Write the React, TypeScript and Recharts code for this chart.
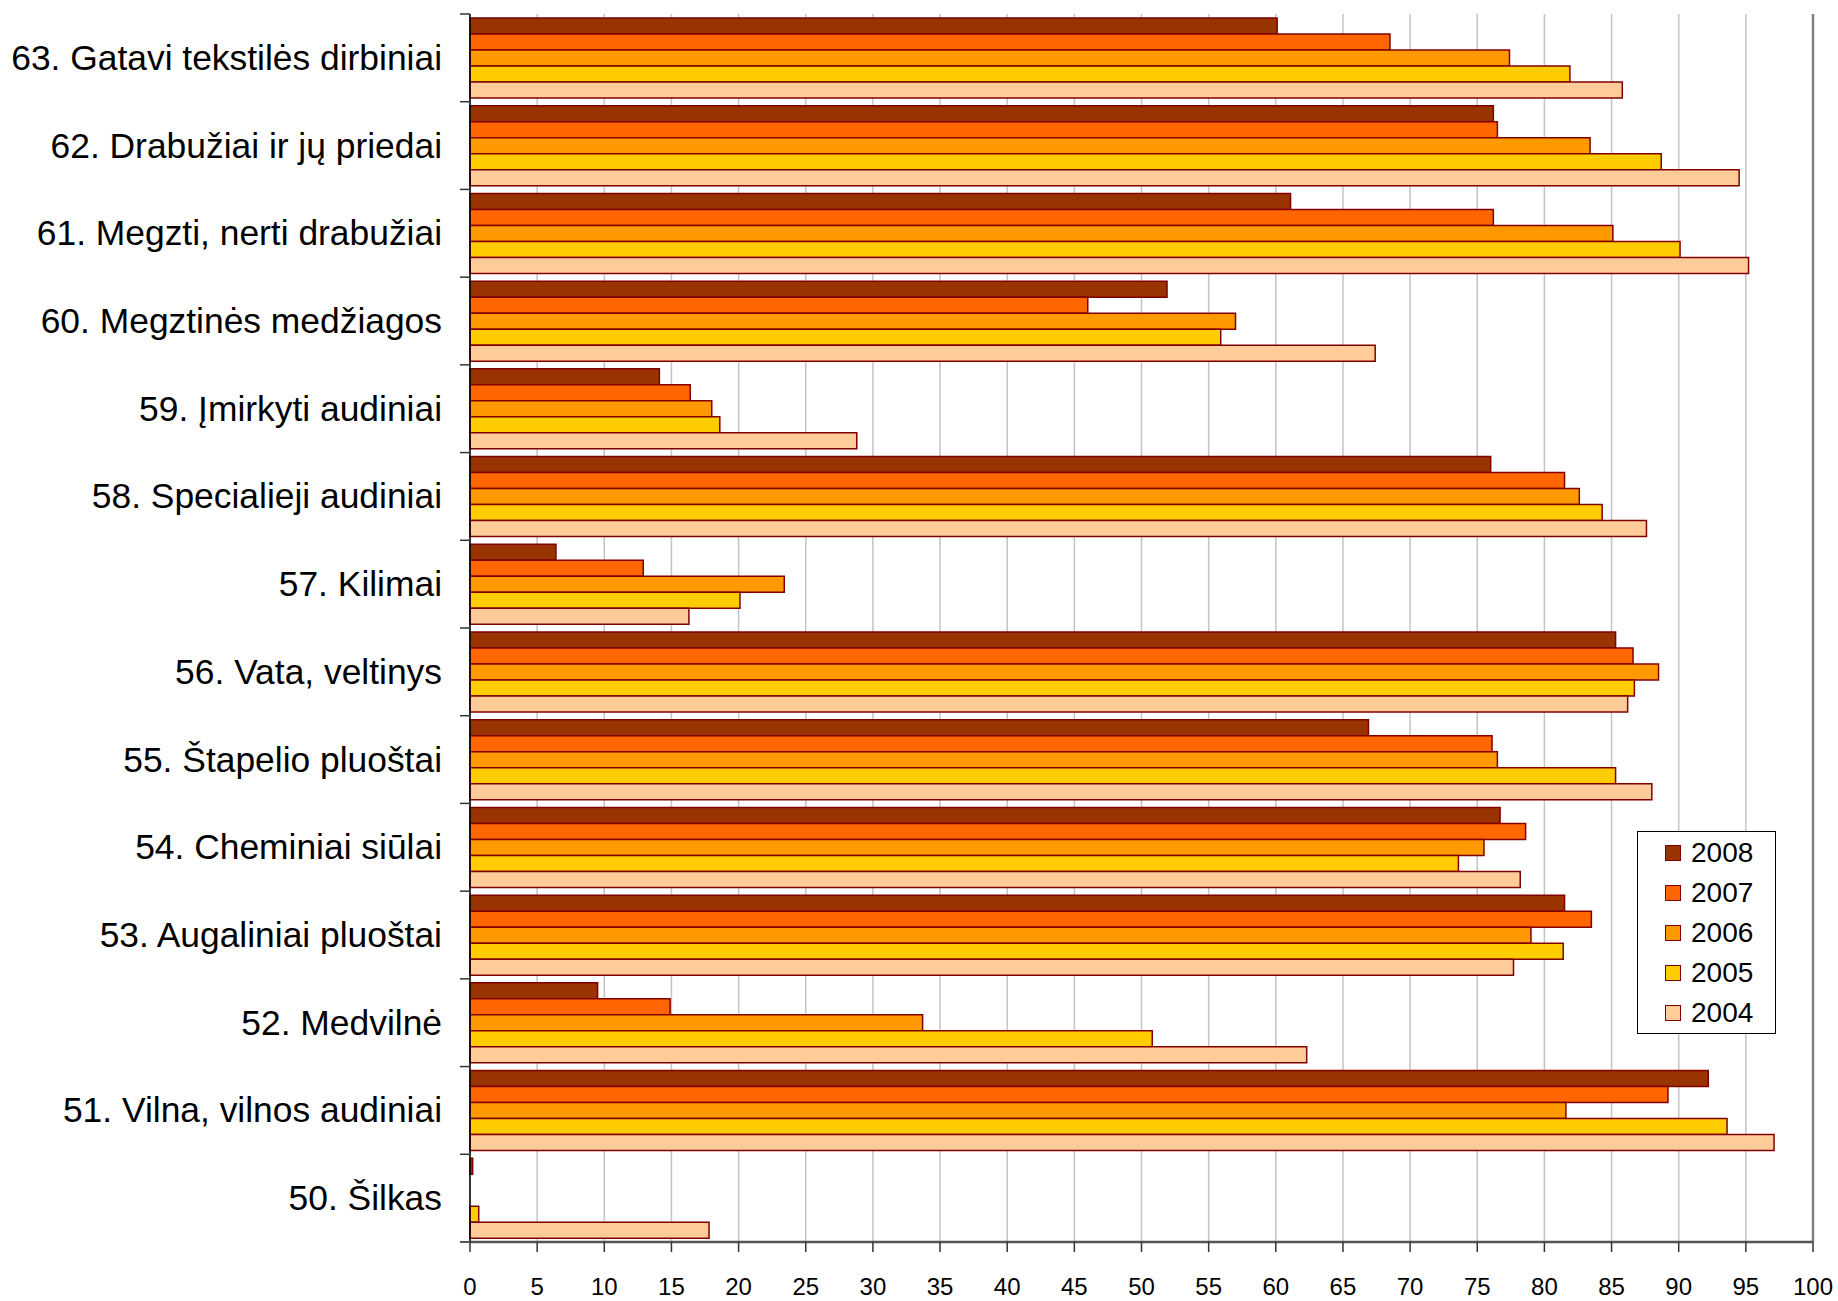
import React from 'react';
import { BarChart, Bar, XAxis, YAxis, CartesianGrid, ReferenceLine, Legend } from 'recharts';

const categories = [
  '63. Gatavi tekstilės dirbiniai',
  '62. Drabužiai ir jų priedai',
  '61. Megzti, nerti drabužiai',
  '60. Megztinės medžiagos',
  '59. Įmirkyti audiniai',
  '58. Specialieji audiniai',
  '57. Kilimai',
  '56. Vata, veltinys',
  '55. Štapelio pluoštai',
  '54. Cheminiai siūlai',
  '53. Augaliniai pluoštai',
  '52. Medvilnė',
  '51. Vilna, vilnos audiniai',
  '50. Šilkas',
];

const y2008 = [60.1, 76.2, 61.1, 51.9, 14.1, 76.0, 6.4, 85.3, 66.9, 76.7, 81.5, 9.5, 92.2, 0.2];
const y2007 = [68.5, 76.5, 76.2, 46.0, 16.4, 81.5, 12.9, 86.6, 76.1, 78.6, 83.5, 14.9, 89.2, 0];
const y2006 = [77.4, 83.4, 85.1, 57.0, 18.0, 82.6, 23.4, 88.5, 76.5, 75.5, 79.0, 33.7, 81.6, 0];
const y2005 = [81.9, 88.7, 90.1, 55.9, 18.6, 84.3, 20.1, 86.7, 85.3, 73.6, 81.4, 50.8, 93.6, 0.65];
const y2004 = [85.8, 94.5, 95.2, 67.4, 28.8, 87.6, 16.3, 86.2, 88.0, 78.2, 77.7, 62.3, 97.1, 17.8];

const xTicks = [0, 5, 10, 15, 20, 25, 30, 35, 40, 45, 50, 55, 60, 65, 70, 75, 80, 85, 90, 95, 100];

const series = [
  { key: '2008', fill: '#993300' },
  { key: '2007', fill: '#FF6600' },
  { key: '2006', fill: '#FF9900' },
  { key: '2005', fill: '#FFCC00' },
  { key: '2004', fill: '#FFCC99' },
];
const seriesOrder = series.map((s) => s.key);

const data = categories.map((name, i) => ({
  name,
  '2008': y2008[i],
  '2007': y2007[i],
  '2006': y2006[i],
  '2005': y2005[i],
  '2004': y2004[i],
}));

const W = 1838;
const H = 1301;
const TOP = 14;
const X_AXIS_H = 59;
const Y_AXIS_W = 470;
const BAND = (H - TOP - X_AXIS_H) / categories.length;
const FONT = '"Liberation Sans", Arial, sans-serif';

function CategoryTick({ x, y, payload, index }: any) {
  const ax = x + 28;
  return (
    <g>
      <line x1={ax - 10} x2={ax} y1={y - BAND / 2} y2={y - BAND / 2} stroke="#333" strokeWidth={1.5} />
      {index === categories.length - 1 && (
        <line x1={ax - 10} x2={ax} y1={y + BAND / 2} y2={y + BAND / 2} stroke="#555" strokeWidth={2} />
      )}
      <text x={x} y={y} textAnchor="end" dominantBaseline="central" fontSize={35.4} fill="#000" fontFamily={FONT}>
        {payload.value}
      </text>
    </g>
  );
}

function LegendBox({ payload }: any) {
  const items = [...(payload || [])].sort(
    (a: any, b: any) => seriesOrder.indexOf(String(a.value)) - seriesOrder.indexOf(String(b.value))
  );
  return (
    <div
      style={{
        width: 139,
        height: 203,
        boxSizing: 'border-box',
        border: '1px solid #000',
        background: '#fff',
        paddingTop: 1,
        fontFamily: FONT,
      }}
    >
      {items.map((p: any) => (
        <div key={p.value} style={{ height: 40, display: 'flex', alignItems: 'center' }}>
          <span
            style={{
              display: 'inline-block',
              width: 16,
              height: 16,
              marginLeft: 27,
              marginRight: 10,
              background: p.color,
              border: '1.5px solid #800000',
              boxSizing: 'border-box',
            }}
          />
          <span style={{ fontSize: 28, color: '#000', lineHeight: '28px' }}>{p.value}</span>
        </div>
      ))}
    </div>
  );
}

export default function App() {
  return (
    <div style={{ position: 'absolute', left: 0, top: 0, width: W, height: H, background: '#fff' }}>
      <BarChart
        width={W}
        height={H}
        data={data}
        layout="vertical"
        margin={{ top: TOP, right: 25, bottom: 0, left: 0 }}
        barCategoryGap={4}
        barGap={0}
      >
        <CartesianGrid horizontal={false} vertical stroke="#c4c4c4" strokeWidth={1.5} />
        <XAxis
          type="number"
          domain={[0, 100]}
          ticks={xTicks}
          interval={0}
          height={X_AXIS_H}
          tickSize={10}
          tickMargin={26}
          axisLine={{ stroke: '#555', strokeWidth: 2.5 }}
          tickLine={{ stroke: '#333', strokeWidth: 1.5 }}
          tick={{ fill: '#000', fontSize: 24, fontFamily: FONT }}
        />
        <XAxis
          xAxisId="top"
          orientation="top"
          type="number"
          domain={[0, 100]}
          height={0}
          tick={false}
          tickLine={false}
          axisLine={{ stroke: '#a8a8a8', strokeWidth: 2 }}
        />
        <YAxis
          type="category"
          dataKey="name"
          width={Y_AXIS_W}
          interval={0}
          tickSize={0}
          tickMargin={28}
          tickLine={false}
          axisLine={{ stroke: '#000', strokeWidth: 1.5 }}
          tick={<CategoryTick />}
        />
        <ReferenceLine x={100} stroke="#808080" strokeWidth={2.5} />
        {series.map((s) => (
          <Bar
            key={s.key}
            dataKey={s.key}
            fill={s.fill}
            stroke="#800000"
            strokeWidth={1.5}
            isAnimationActive={false}
          />
        ))}
        <Legend
          layout="vertical"
          align="center"
          verticalAlign="middle"
          content={<LegendBox />}
          wrapperStyle={{ left: 1637, top: 831, width: 139, height: 203 }}
        />
      </BarChart>
    </div>
  );
}
